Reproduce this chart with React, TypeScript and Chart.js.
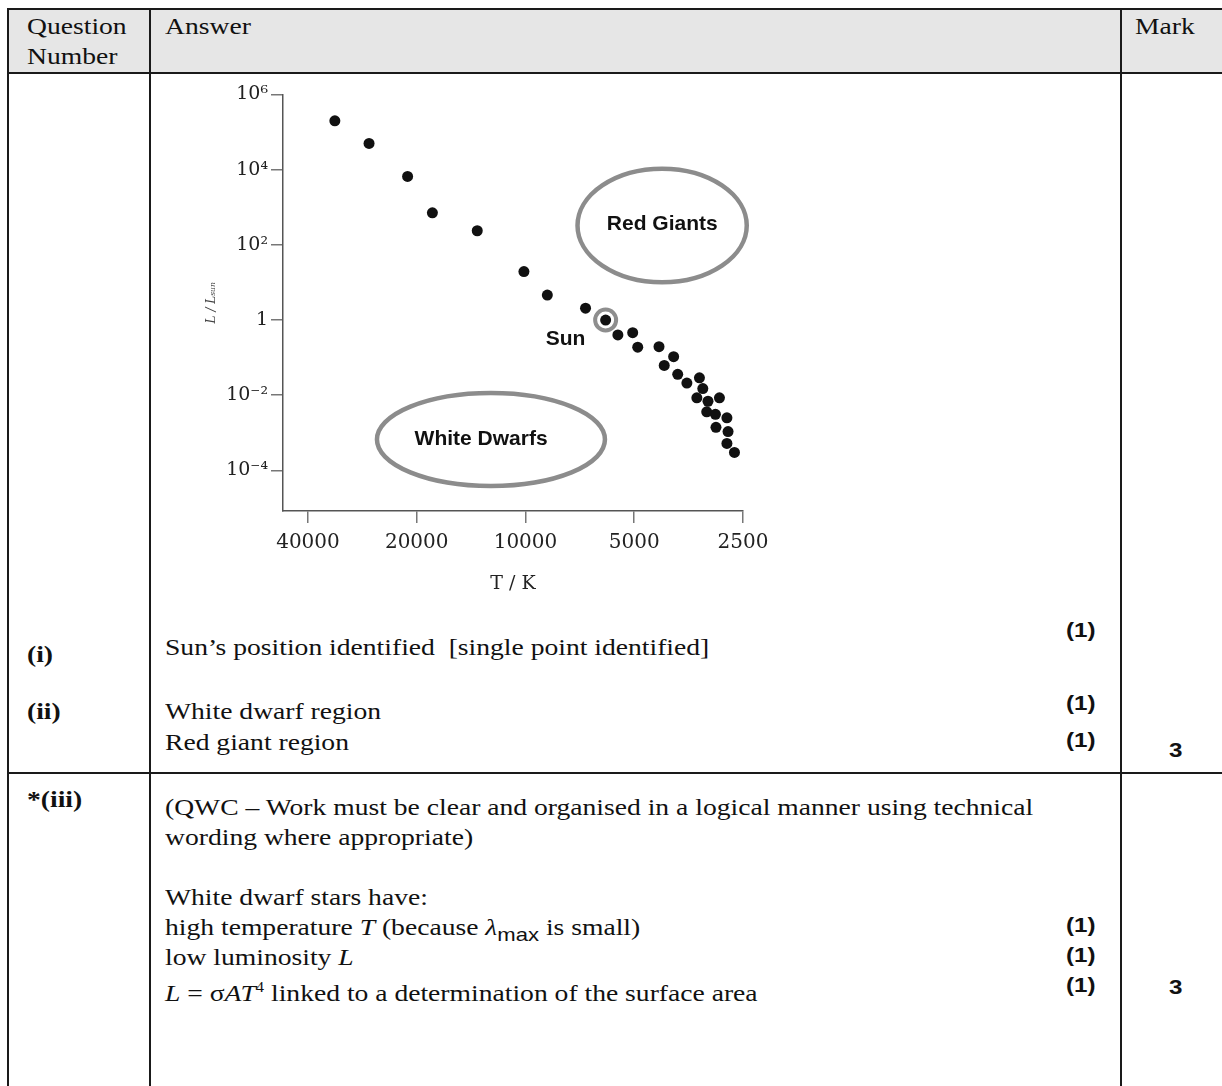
import React, { useEffect, useRef } from "react";
import { Chart, registerables } from "chart.js";

Chart.register(...registerables);

// ---- data ----
const starTemperatures = [33700, 27100, 21200, 18100, 13600, 10100, 8700, 6820, 6000, 5550, 5050, 4890, 4270, 3890, 4130, 3790, 3575, 3300, 3230, 3355, 3125, 2905, 3150, 2980, 2770, 2970, 2750, 2770, 2640];
const starLuminosities = [2.0e5, 5.0e4, 6.6e3, 710, 237, 19.5, 4.6, 2.07, 1.0, 0.4, 0.46, 0.19, 0.195, 0.106, 0.062, 0.036, 0.021, 0.029, 0.015, 0.0085, 0.0069, 0.0085, 0.0036, 0.0031, 0.0025, 0.0014, 0.00108, 0.00052, 0.0003];
const sunTemperature = [6000];
const sunLuminosity = [1];

const xTickValues = [40000, 20000, 10000, 5000, 2500];
const xTickLabels = ["40000", "20000", "10000", "5000", "2500"];
const yTickValues = [1e-4, 1e-2, 1, 1e2, 1e4, 1e6];
const yTickLabels = ["10⁻⁴", "10⁻²", "1", "10²", "10⁴", "10⁶"];

const regionTHot = [26100, 7270];
const regionTCool = [5950, 2410];
const regionLHigh = [0.0129, 12000];
const regionLLow = [3.4e-5, 8.9];

const labelNames = ["Red Giants", "White Dwarfs", "Sun"];
const labelT = [4183, 13270, 7750];
const labelL = [357, 6.9e-4, 0.3];

const serif = '"Liberation Serif", "Times New Roman", serif';
const sans = '"Liberation Sans", Arial, sans-serif';
const tickSerif = '"DejaVu Serif", serif';

const regionsPlugin = {
  id: "regions",
  beforeDatasetsDraw(chart: any) {
    const { ctx } = chart;
    const xs = chart.scales.x;
    const ys = chart.scales.y;
    ctx.save();
    ctx.strokeStyle = "#8c8c8c";
    ctx.lineWidth = 4.5;
    for (let i = 0; i < regionTHot.length; i++) {
      const x1 = xs.getPixelForValue(regionTHot[i]);
      const x2 = xs.getPixelForValue(regionTCool[i]);
      const y1 = ys.getPixelForValue(regionLHigh[i]);
      const y2 = ys.getPixelForValue(regionLLow[i]);
      ctx.beginPath();
      ctx.ellipse((x1 + x2) / 2, (y1 + y2) / 2, Math.abs(x2 - x1) / 2 - 2, Math.abs(y2 - y1) / 2 - 2, 0, 0, Math.PI * 2);
      ctx.stroke();
    }
    ctx.fillStyle = "#111";
    ctx.textAlign = "center";
    ctx.textBaseline = "middle";
    ctx.font = `bold 21px ${sans}`;
    for (let i = 0; i < labelNames.length; i++) {
      ctx.fillText(labelNames[i], xs.getPixelForValue(labelT[i]), ys.getPixelForValue(labelL[i]));
    }
    ctx.restore();
  },
};

function HRChart() {
  const ref = useRef<HTMLCanvasElement | null>(null);
  useEffect(() => {
    if (!ref.current) return;
    const chart = new Chart(ref.current, {
      type: "scatter",
      data: {
        datasets: [
          {
            data: starTemperatures.map((t, i) => ({ x: t, y: starLuminosities[i] })),
            backgroundColor: "#111",
            borderWidth: 0,
            pointRadius: 5.5,
            pointHoverRadius: 5.5,
          },
          {
            data: sunTemperature.map((t, i) => ({ x: t, y: sunLuminosity[i] })),
            backgroundColor: "rgba(0,0,0,0)",
            borderColor: "#8e8e8e",
            borderWidth: 4,
            pointRadius: 10.5,
            pointHoverRadius: 10.5,
          },
        ],
      },
      options: {
        responsive: false,
        animation: false,
        events: [],
        layout: { padding: { top: 10, right: 37, left: 0, bottom: 0 } },
        plugins: { legend: { display: false }, tooltip: { enabled: false } },
        scales: {
          x: {
            type: "logarithmic",
            reverse: true,
            min: 2500,
            max: 46900,
            afterBuildTicks: (s: any) => {
              s.ticks = xTickValues.map((v) => ({ value: v }));
            },
            afterFit: (s: any) => {
              s.height = 89;
            },
            ticks: {
              callback: (_v: any, i: number) => xTickLabels[i],
              font: { family: tickSerif, size: 20 },
              color: "#222",
              padding: 8,
              maxRotation: 0,
              autoSkip: false,
            },
            grid: { drawOnChartArea: false, tickLength: 12, color: "#777", lineWidth: 1.5 },
            border: { color: "#555", width: 1.5 },
            title: {
              display: true,
              text: "T / K",
              font: { family: tickSerif, size: 19 },
              color: "#222",
              padding: { top: 0, bottom: 5 },
            },
          },
          y: {
            type: "logarithmic",
            min: 8.3e-6,
            max: 1e6,
            afterBuildTicks: (s: any) => {
              s.ticks = yTickValues.map((v) => ({ value: v }));
            },
            afterFit: (s: any) => {
              s.width = 83;
            },
            ticks: {
              callback: (_v: any, i: number) => yTickLabels[i],
              font: { family: tickSerif, size: 19 },
              color: "#222",
              padding: 3,
              autoSkip: false,
            },
            grid: { drawOnChartArea: false, tickLength: 12, color: "#777", lineWidth: 1.5 },
            border: { color: "#555", width: 1.5 },
            title: {
              display: true,
              text: "L / Lₛᵤₙ",
              font: { family: tickSerif, size: 12, style: "italic" },
              color: "#444",
              padding: { top: 5, bottom: 0 },
            },
          },
        },
      },
      plugins: [regionsPlugin],
    } as any);
    return () => chart.destroy();
  }, []);
  return (
    <canvas
      ref={ref}
      width={580}
      height={520}
      style={{ position: "absolute", left: 200, top: 80, width: 580, height: 520 }}
    />
  );
}

function Txt(props: { x: number; y: number; bold?: boolean; size?: number; sx?: number; family?: string; children: React.ReactNode }) {
  const size = props.size ?? 23;
  return (
    <div
      style={{
        position: "absolute",
        left: props.x,
        top: props.y - size * 0.6,
        fontSize: size,
        lineHeight: `${size * 1.2}px`,
        whiteSpace: "nowrap",
        fontFamily: props.family ?? serif,
        fontWeight: props.bold ? "bold" : "normal",
        color: "#111",
        transform: `scaleX(${props.sx ?? 1.2})`,
        transformOrigin: "left center",
      }}
    >
      {props.children}
    </div>
  );
}

function Mk(props: { x?: number; y: number; children: React.ReactNode }) {
  return (
    <Txt x={props.x ?? 1066} y={props.y} bold size={21} sx={1.15} family={sans}>
      {props.children}
    </Txt>
  );
}

function Line(props: { x: number; y: number; w: number; h: number }) {
  return <div style={{ position: "absolute", left: props.x, top: props.y, width: props.w, height: props.h, background: "#1a1a1a" }} />;
}

export default function App() {
  return (
    <div style={{ position: "absolute", left: 0, top: 0, width: 1222, height: 1086, overflow: "hidden", background: "#fff" }}>
      <div style={{ position: "absolute", left: 9, top: 10, width: 1213, height: 62, background: "#e6e6e6" }} />
      <Line x={7} y={8} w={1215} h={2} />
      <Line x={7} y={72} w={1215} h={2} />
      <Line x={7} y={772} w={1215} h={2} />
      <Line x={7} y={8} w={2} h={1078} />
      <Line x={149} y={8} w={2} h={1078} />
      <Line x={1120} y={8} w={2} h={1078} />

      <Txt x={27} y={27}>Question</Txt>
      <Txt x={27} y={57}>Number</Txt>
      <Txt x={165} y={27}>Answer</Txt>
      <Txt x={1135} y={27}>Mark</Txt>

      <HRChart />

      <Txt x={27} y={655} bold>(i)</Txt>
      <Txt x={165} y={648}>Sun’s position identified&nbsp;&nbsp;[single point identified]</Txt>
      <Mk y={630}>(1)</Mk>
      <Txt x={27} y={712} bold>(ii)</Txt>
      <Txt x={165} y={712}>White dwarf region</Txt>
      <Mk y={703}>(1)</Mk>
      <Txt x={165} y={743}>Red giant region</Txt>
      <Mk y={740}>(1)</Mk>
      <Mk x={1169} y={750}>3</Mk>

      <Txt x={27} y={800} bold>*(iii)</Txt>
      <Txt x={165} y={808}>(QWC – Work must be clear and organised in a logical manner using technical</Txt>
      <Txt x={165} y={838}>wording where appropriate)</Txt>
      <Txt x={165} y={898}>White dwarf stars have:</Txt>
      <Txt x={165} y={928}>
        high temperature <i>T</i> (because <i>λ</i>
        <sub style={{ fontFamily: sans, fontSize: "0.8em" }}>max</sub> is small)
      </Txt>
      <Mk y={925}>(1)</Mk>
      <Txt x={165} y={958}>
        low luminosity <i>L</i>
      </Txt>
      <Mk y={955}>(1)</Mk>
      <Txt x={165} y={988}>
        <i>L</i> = σ<i>AT</i>
        <sup style={{ fontSize: "0.6em" }}>4</sup> linked to a determination of the surface area
      </Txt>
      <Mk y={985}>(1)</Mk>
      <Mk x={1169} y={987}>3</Mk>
    </div>
  );
}
